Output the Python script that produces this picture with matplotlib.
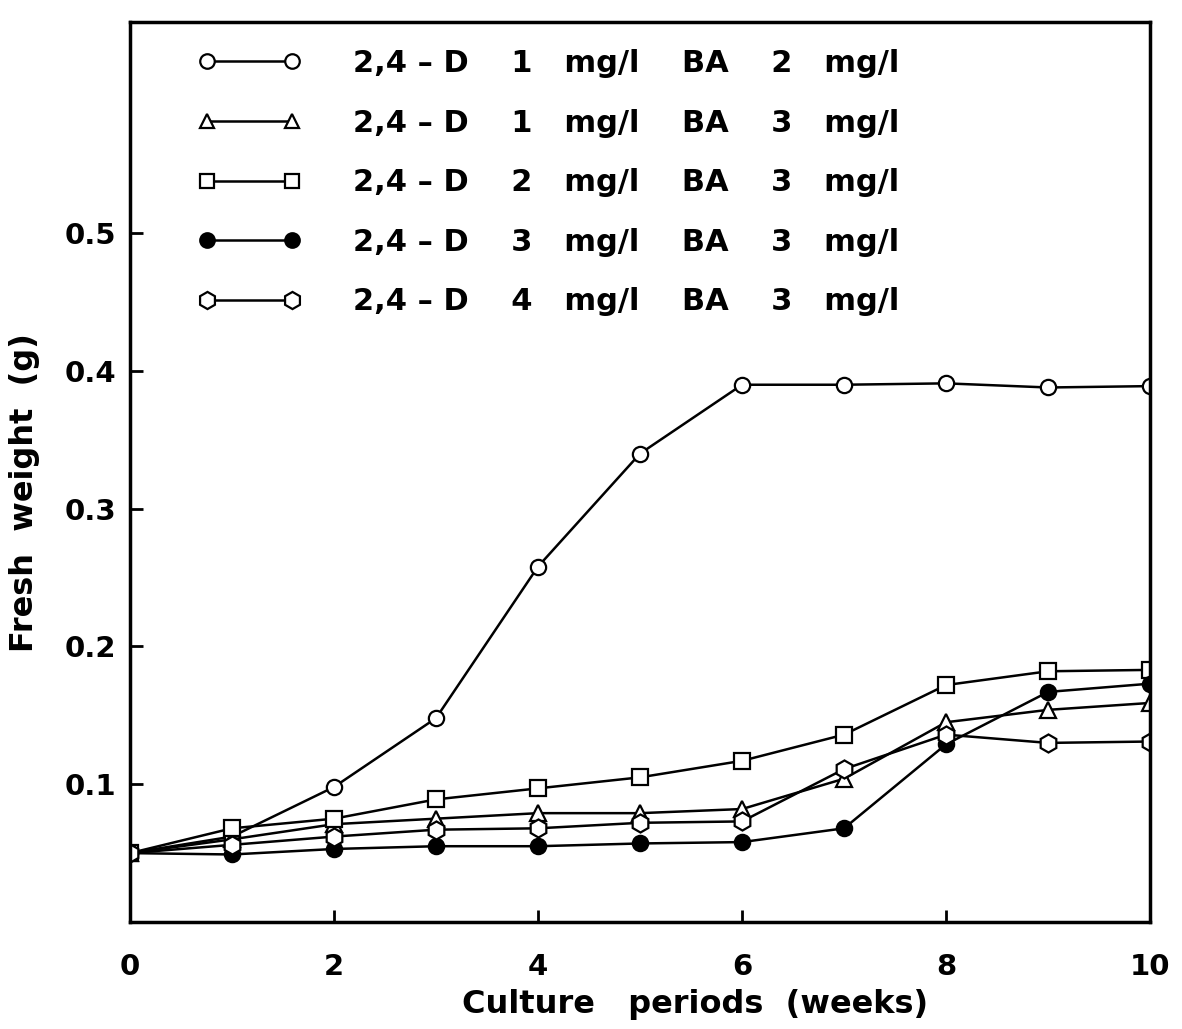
import matplotlib
matplotlib.use("Agg")
import matplotlib.pyplot as plt

# fresh weight of callus over the culture period, one series per medium
weeks = [0, 1, 2, 3, 4, 5, 6, 7, 8, 9, 10]

d1_ba2 = [0.050, 0.062, 0.098, 0.148, 0.258, 0.340, 0.390, 0.390, 0.391, 0.388, 0.389]
d1_ba3 = [0.050, 0.060, 0.071, 0.075, 0.079, 0.079, 0.082, 0.104, 0.145, 0.154, 0.159]
d2_ba3 = [0.050, 0.068, 0.075, 0.089, 0.097, 0.105, 0.117, 0.136, 0.172, 0.182, 0.183]
d3_ba3 = [0.050, 0.049, 0.053, 0.055, 0.055, 0.057, 0.058, 0.068, 0.129, 0.167, 0.173]
d4_ba3 = [0.050, 0.056, 0.062, 0.067, 0.068, 0.072, 0.073, 0.111, 0.136, 0.130, 0.131]

labels = [
    "2,4 – D    1   mg/l    BA    2   mg/l",
    "2,4 – D    1   mg/l    BA    3   mg/l",
    "2,4 – D    2   mg/l    BA    3   mg/l",
    "2,4 – D    3   mg/l    BA    3   mg/l",
    "2,4 – D    4   mg/l    BA    3   mg/l",
]

x_ticks = [0, 2, 4, 6, 8, 10]
y_ticks = [0.1, 0.2, 0.3, 0.4, 0.5]

series = [d1_ba2, d1_ba3, d2_ba3, d3_ba3, d4_ba3]
markers = ["o", "^", "s", "o", "h"]
sizes = [11, 11, 11, 11, 13]
faces = ["white", "white", "white", "black", "white"]

plt.rcParams["font.family"] = "DejaVu Sans"
plt.rcParams["font.weight"] = "bold"

fig = plt.figure(figsize=(11.82, 10.29), dpi=100)
ax = fig.add_axes([0.110, 0.104, 0.863, 0.875])

handles = []
for ys, m, ms, fc, lab in zip(series, markers, sizes, faces, labels):
    h, = ax.plot(weeks, ys, marker=m, color="black", markerfacecolor=fc,
                 markeredgecolor="black", markersize=ms, markeredgewidth=1.6,
                 linewidth=1.8, label=lab)
    handles.append(h)

ax.set_xlim(0, 10)
ax.set_ylim(0, 0.6536)
ax.set_xticks(x_ticks)
ax.set_xticklabels([str(t) for t in x_ticks])
ax.set_yticks(y_ticks)
ax.set_yticklabels([f"{t:.1f}" for t in y_ticks])
ax.tick_params(direction="in", length=9, width=2, labelsize=21)
ax.tick_params(axis="x", pad=22)
ax.tick_params(axis="y", pad=10)
for s in ax.spines.values():
    s.set_linewidth(2.5)

ax.set_xlabel("Culture   periods  (weeks)", fontsize=23, fontweight="bold")
ax.xaxis.set_label_coords(0.554, -0.074)
ax.set_ylabel("Fresh  weight  (g)", fontsize=23, fontweight="bold")
ax.yaxis.set_label_coords(-0.088, 0.477)

ax.legend(handles=handles, loc="upper left", bbox_to_anchor=(0.040, 1.0),
          frameon=False, fontsize=22, numpoints=2, handlelength=3.35,
          handletextpad=1.7, labelspacing=1.0, markerscale=0.95)

fig.savefig("out.png", dpi=100, facecolor="white")
